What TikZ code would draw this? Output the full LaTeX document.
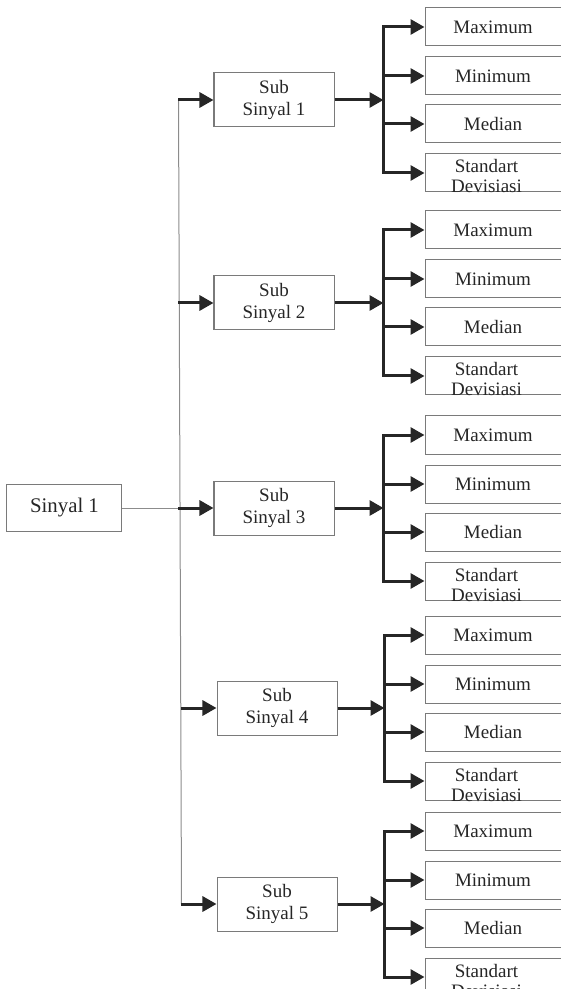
\documentclass[tikz,border=0pt]{standalone}
\usepackage{fontspec}
\setmainfont{Liberation Serif}
\usepackage{tikz}
\usetikzlibrary{arrows.meta,positioning}
\definecolor{linedark}{HTML}{262626}
\definecolor{boxgray}{HTML}{7A7A7A}
\definecolor{trunkgray}{HTML}{8C8C8C}
\newcommand{\stdtext}{\raisebox{0pt}[0pt][0pt]{\begin{tabular}[t]{@{}c@{}}Standart\\Devisiasi\end{tabular}}\kern6.5pt}

\begin{document}
\begin{tikzpicture}[
 subbox/.style={draw=boxgray,line width=0.5pt,minimum width=60pt,minimum height=27pt,inner sep=0pt,align=center,text=linedark,font=\fontsize{9.5}{11}\selectfont},
 feat/.style={draw=boxgray,line width=0.5pt,minimum width=68pt,minimum height=19pt,inner sep=0pt,align=center,text=linedark,font=\fontsize{9.5}{10}\selectfont},
 sigbox/.style={draw=boxgray,line width=0.5pt,minimum width=57.5pt,minimum height=23.5pt,inner sep=0pt,text=linedark,font=\fontsize{10.4}{12}\selectfont},
 arrow/.style={-{Triangle[length=7pt,width=7.5pt]},line width=1.5pt,draw=linedark},
 trunk/.style={draw=trunkgray,line width=0.5pt}
]
\useasboundingbox (-137pt,50pt) rectangle (143.5pt,-444.5pt);
% sub signals
\node[subbox] (s1) at (0,0) {Sub\\Sinyal 1};
\node[subbox,below=74pt of s1] (s2) {Sub\\Sinyal 2};
\node[subbox,below=75pt of s2] (s3) {Sub\\Sinyal 3};
\node[subbox,below=72.5pt of s3,xshift=1.5pt] (s4) {Sub\\Sinyal 4};
\node[subbox,below=70.5pt of s4] (s5) {Sub\\Sinyal 5};
\coordinate[left=17.5pt of s1] (t1); \coordinate[left=17.5pt of s2] (t2); \coordinate[left=17.5pt of s3] (t3);
\coordinate[left=17.5pt of s4] (t4); \coordinate[left=17.5pt of s5] (t5);
\node[sigbox,left=28pt of t3] (sig) {Sinyal 1};
% features
\node[feat,right=45pt of s1,yshift=12pt] (s1min) {Minimum}; \node[feat,right=45pt of s1,yshift=-12pt] (s1med) {Median};
\node[feat,above=5pt of s1min] (s1max) {Maximum}; \node[feat,below=5pt of s1med] (s1std) {\stdtext};
\node[feat,right=45pt of s2,yshift=12pt] (s2min) {Minimum}; \node[feat,right=45pt of s2,yshift=-12pt] (s2med) {Median};
\node[feat,above=5pt of s2min] (s2max) {Maximum}; \node[feat,below=5pt of s2med] (s2std) {\stdtext};
\node[feat,right=45pt of s3,yshift=12pt] (s3min) {Minimum}; \node[feat,right=45pt of s3,yshift=-12pt] (s3med) {Median};
\node[feat,above=5pt of s3min] (s3max) {Maximum}; \node[feat,below=5pt of s3med] (s3std) {\stdtext};
\node[feat,right=43.5pt of s4,yshift=12pt] (s4min) {Minimum}; \node[feat,right=43.5pt of s4,yshift=-12pt] (s4med) {Median};
\node[feat,above=5pt of s4min] (s4max) {Maximum}; \node[feat,below=5pt of s4med] (s4std) {\stdtext};
\node[feat,right=43.5pt of s5,yshift=12pt] (s5min) {Minimum}; \node[feat,right=43.5pt of s5,yshift=-12pt] (s5med) {Median};
\node[feat,above=5pt of s5min] (s5max) {Maximum}; \node[feat,below=5pt of s5med] (s5std) {\stdtext};
\coordinate[right=24.5pt of s1] (b1); \coordinate[right=24.5pt of s2] (b2); \coordinate[right=24.5pt of s3] (b3);
\coordinate[right=23.5pt of s4] (b4); \coordinate[right=23.5pt of s5] (b5);
% connectors
\draw[trunk] (t1)--(t5); \draw[trunk] (sig)--(t3);
\draw[arrow] (t1)--(s1); \draw[arrow] (t2)--(s2); \draw[arrow] (t3)--(s3); \draw[arrow] (t4)--(s4); \draw[arrow] (t5)--(s5);
\draw[arrow] (s1)--(b1); \draw[arrow] (s2)--(b2); \draw[arrow] (s3)--(b3); \draw[arrow] (s4)--(b4); \draw[arrow] (s5)--(b5);
\draw[arrow] (b1)|-(s1max); \draw[arrow] (b1)|-(s1min); \draw[arrow] (b1)|-(s1med); \draw[arrow] (b1)|-(s1std);
\draw[arrow] (b2)|-(s2max); \draw[arrow] (b2)|-(s2min); \draw[arrow] (b2)|-(s2med); \draw[arrow] (b2)|-(s2std);
\draw[arrow] (b3)|-(s3max); \draw[arrow] (b3)|-(s3min); \draw[arrow] (b3)|-(s3med); \draw[arrow] (b3)|-(s3std);
\draw[arrow] (b4)|-(s4max); \draw[arrow] (b4)|-(s4min); \draw[arrow] (b4)|-(s4med); \draw[arrow] (b4)|-(s4std);
\draw[arrow] (b5)|-(s5max); \draw[arrow] (b5)|-(s5min); \draw[arrow] (b5)|-(s5med); \draw[arrow] (b5)|-(s5std);
\end{tikzpicture}
\end{document}
